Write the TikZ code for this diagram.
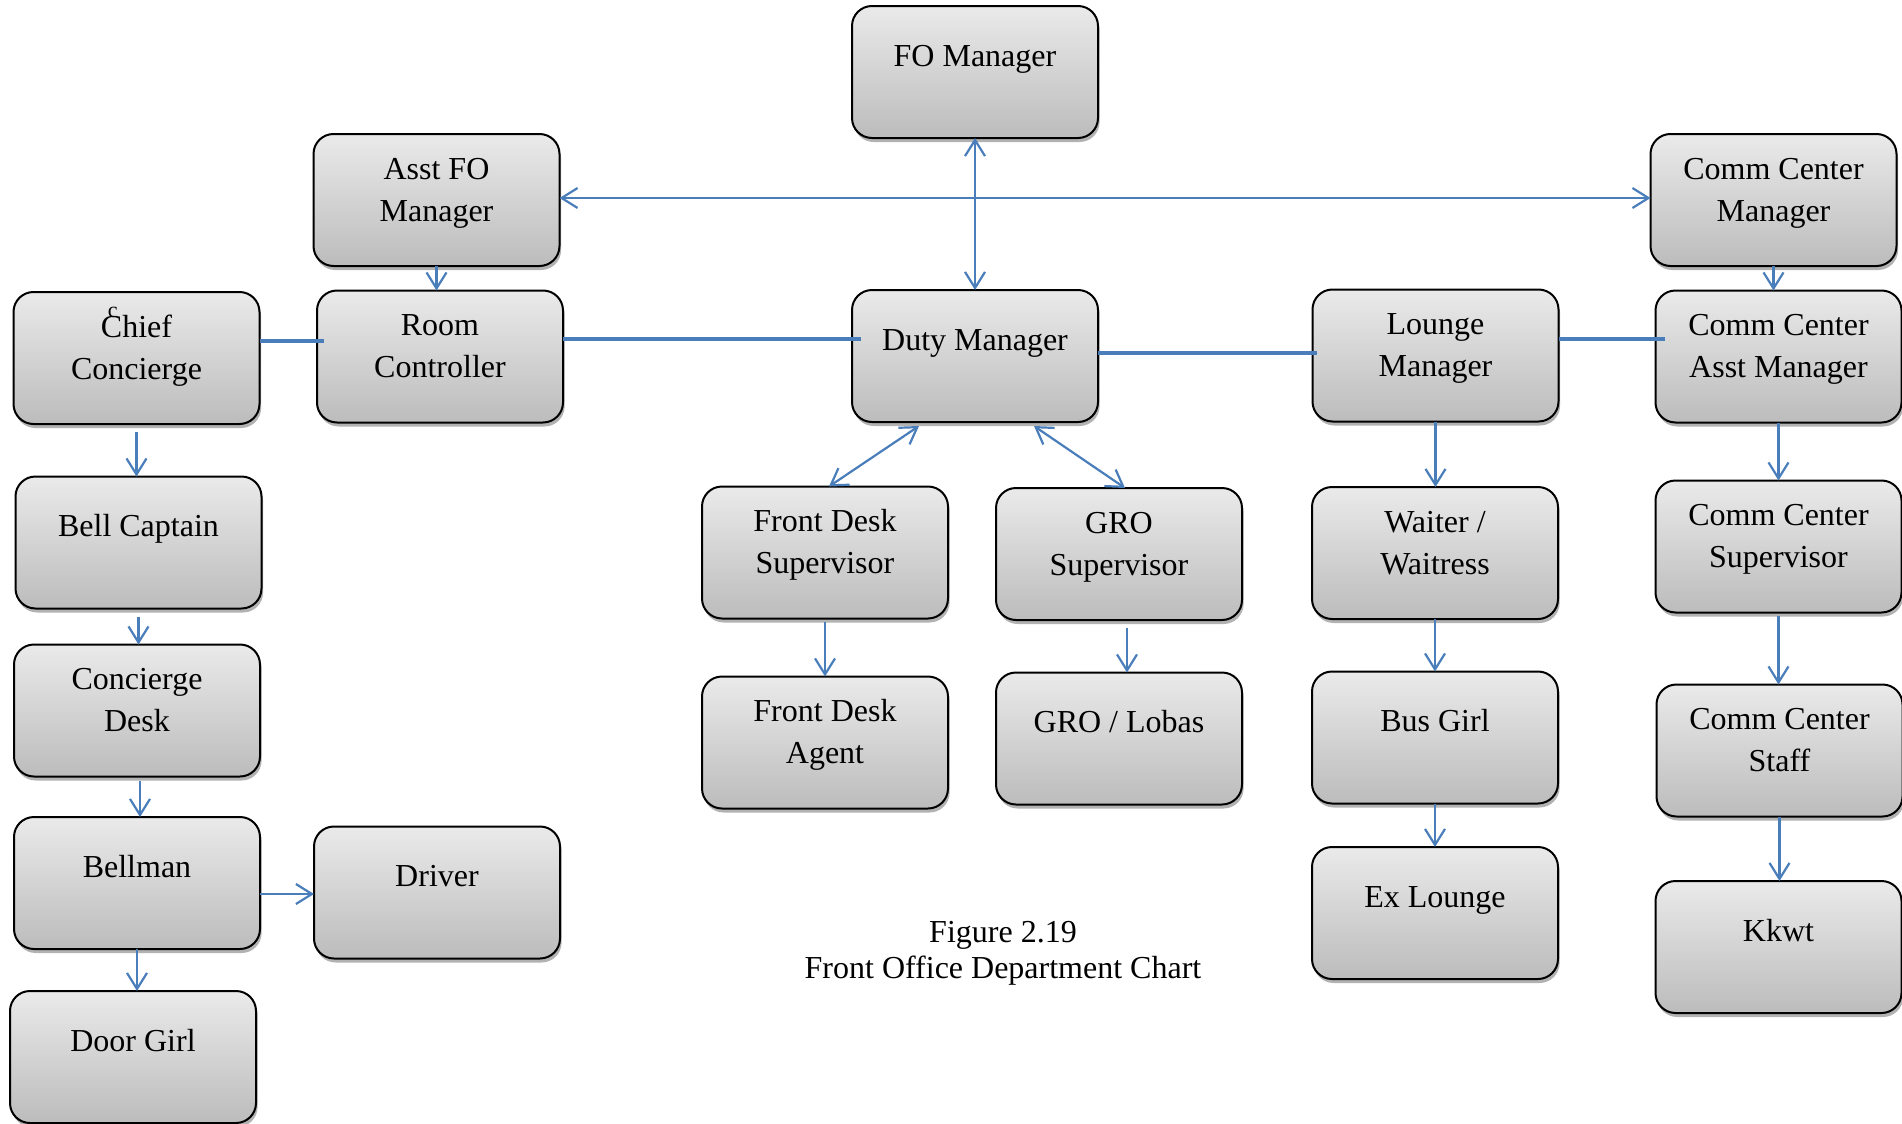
\documentclass[tikz,border=0pt]{standalone}
\usepackage{fontspec}
\setmainfont{Liberation Serif}
\usetikzlibrary{arrows.meta,shadows,calc}
\definecolor{boxtop}{RGB}{234,234,234}
\definecolor{boxbot}{RGB}{188,188,188}
\definecolor{conn}{RGB}{74,126,187}
\newcommand\oneline[1]{\vbox to 66pt{\hsize=123pt\centering\noindent\rule{0pt}{30pt}#1\par\vss}}
\newcommand\twoline[2]{\vbox to 66pt{\hsize=123pt\centering\noindent\rule{0pt}{22.5pt}#1\\#2\par\vss}}
\tikzset{
  orgbox/.style={draw=black, line width=1pt, rounded corners=10pt,
    top color=boxtop, bottom color=boxbot, inner sep=0pt, outer sep=0pt,
    font=\fontsize{16}{21}\selectfont,
    drop shadow={shadow xshift=0.8pt, shadow yshift=-2pt, opacity=0.3, fill=black}},
  arr/.style={draw=conn, line width=1.1pt, -{Straight Barb[length=8pt,width=10pt]}},
  darr/.style={draw=conn, line width=1.1pt, {Straight Barb[length=8pt,width=10pt]}-{Straight Barb[length=8pt,width=10pt]}},
  thk/.style={draw=conn, line width=2pt},
  captext/.style={font=\fontsize{16}{18}\selectfont, align=center, inner sep=0pt}
}
\begin{document}
\begin{tikzpicture}[x=0.5pt, y=-0.5pt]
\useasboundingbox (0,0) rectangle (1902,1124);
% boxes
\node[orgbox] (fo)      at (975,72)     {\oneline{FO Manager}};
\node[orgbox] (asst)    at (436.5,200)  {\twoline{Asst FO}{Manager}};
\node[orgbox] (ccm)     at (1773.5,200) {\twoline{Comm Center}{Manager}};
\node[orgbox] (chief)   at (136.5,358)  {\twoline{\rlap{\hspace{3.5pt}\raisebox{10pt}{\fontsize{11}{11}\selectfont c}}Chief}{Concierge}};
\node[orgbox] (room)    at (440,356.5)  {\twoline{Room}{Controller}};
\node[orgbox] (duty)    at (975,356)    {\oneline{Duty Manager}};
\node[orgbox] (lounge)  at (1435.5,355.5) {\twoline{Lounge}{Manager}};
\node[orgbox] (ccasst)  at (1778.5,356.5) {\twoline{Comm Center}{Asst Manager}};
\node[orgbox] (bell)    at (138.5,542.5) {\oneline{Bell Captain}};
\node[orgbox] (cdesk)   at (137,710.5)  {\twoline{Concierge}{Desk}};
\node[orgbox] (bellman) at (137,883)    {\oneline{Bellman}};
\node[orgbox] (driver)  at (437,892.5)  {\oneline{Driver}};
\node[orgbox] (door)    at (133,1057)   {\oneline{Door Girl}};
\node[orgbox] (fds)     at (825,552.5)  {\twoline{Front Desk}{Supervisor}};
\node[orgbox] (grosup)  at (1119,554)   {\twoline{GRO}{Supervisor}};
\node[orgbox] (fda)     at (825,742.5)  {\twoline{Front Desk}{Agent}};
\node[orgbox] (grolobas) at (1119,738.5) {\oneline{GRO / Lobas}};
\node[orgbox] (waiter)  at (1435,553)   {\twoline{Waiter /}{Waitress}};
\node[orgbox] (busgirl) at (1435,737.5) {\oneline{Bus Girl}};
\node[orgbox] (exlounge) at (1435,913)  {\oneline{Ex Lounge}};
\node[orgbox] (ccsup)   at (1778.5,546.5) {\twoline{Comm Center}{Supervisor}};
\node[orgbox] (ccstaff) at (1779.5,750.5) {\twoline{Comm Center}{Staff}};
\node[orgbox] (kkwt)    at (1778.5,947) {\oneline{Kkwt}};
% caption
\node[captext] (cap) at (1003,953.5) {Figure 2.19\\Front Office Department Chart};
% connectors
\draw[darr] (fo.south) -- (duty.north);
\draw[darr] ([yshift=1pt]asst.east) -- ([yshift=1pt]asst.east -| ccm.west);
\draw[arr] (asst.south) -- (asst.south |- room.north);
\draw[arr] (ccm.south) -- (ccm.south |- ccasst.north);
\draw[thk] ([yshift=8.5pt]chief.east) -- ([yshift=8.5pt,xshift=3.5pt]chief.east -| room.west);
\draw[thk] ([yshift=8.75pt]room.east) -- ([yshift=8.75pt,xshift=4.5pt]room.east -| duty.west);
\draw[thk] ([yshift=1.5pt]duty.east) -- ([yshift=1.5pt,xshift=2pt]duty.east -| lounge.west);
\draw[thk] ([yshift=8.25pt]lounge.east) -- ([yshift=8.25pt,xshift=4.5pt]lounge.east -| ccasst.west);
\draw[darr] ([xshift=-28pt,yshift=-2pt]duty.south) -- ([xshift=2pt]fds.north);
\draw[darr] ([xshift=29.5pt,yshift=-2pt]duty.south) -- ([xshift=3pt]grosup.north);
\draw[arr, shorten <=1.5pt] (fds.south) -- (fda.north);
\draw[arr, shorten <=4pt] ([xshift=4pt]grosup.south) -- ([xshift=4pt]grolobas.north);
\draw[arr] (lounge.south) -- (lounge.south |- waiter.north);
\draw[arr] (waiter.south) -- (waiter.south |- busgirl.north);
\draw[arr] (busgirl.south) -- (busgirl.south |- exlounge.north);
\draw[arr] (ccasst.south) -- (ccasst.south |- ccsup.north);
\draw[arr, shorten <=1.5pt] (ccsup.south) -- (ccsup.south |- ccstaff.north);
\draw[arr] (ccstaff.south) -- (ccstaff.south |- kkwt.north);
\draw[arr, shorten <=4pt] (chief.south) -- (chief.south |- bell.north);
\draw[arr, shorten <=4pt] (bell.south) -- (bell.south |- cdesk.north);
\draw[arr, shorten <=2pt] ([xshift=1.5pt]cdesk.south) -- ([xshift=1.5pt]cdesk.south |- bellman.north);
\draw[arr] (bellman.south) -- (bellman.south |- door.north);
\draw[arr] ([yshift=-5.5pt]bellman.east) -- ([yshift=-5.5pt]bellman.east -| driver.west);
\end{tikzpicture}
\end{document}
